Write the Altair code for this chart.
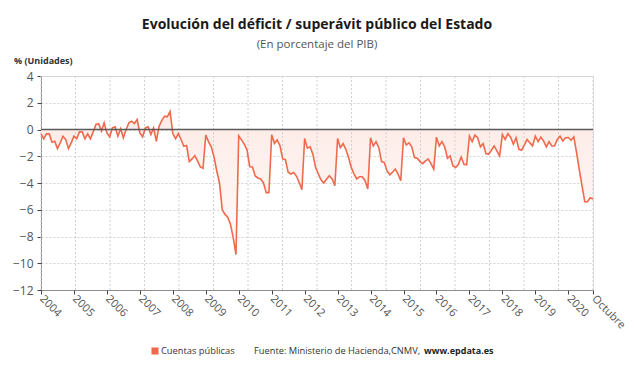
import altair as alt
import pandas as pd
import numpy as np

# Monthly cumulative State deficit/surplus (% GDP), Jan 2004 .. Oct 2020
v2004 = [-0.33, -0.7, -0.33, -0.33, -0.95, -0.88, -1.43, -1.0, -0.5, -0.75, -1.43, -1.0]
v2005 = [-0.5, -0.7, -0.18, -0.18, -0.7, -0.33, -0.7, -0.18, 0.38, 0.43, -0.12, 0.5]
v2006 = [-0.25, -0.55, 0.12, 0.2, -0.5, 0.05, -0.62, 0.0, 0.5, 0.62, 0.45, 0.75]
v2007 = [-0.25, -0.55, 0.12, 0.2, -0.38, 0.12, -0.88, 0.25, 0.68, 1.0, 0.95, 1.35]
v2008 = [-0.3, -0.7, -0.3, -0.75, -1.25, -1.2, -2.4, -2.2, -1.95, -2.35, -2.8, -2.9]
v2009 = [-0.42, -0.9, -1.3, -2.05, -3.1, -4.0, -6.0, -6.35, -6.55, -7.1, -8.1, -9.35]
v2010 = [-0.47, -0.78, -1.1, -1.52, -2.78, -2.8, -3.47, -3.62, -3.7, -3.98, -4.72, -4.72]
v2011 = [-0.4, -1.05, -0.78, -1.2, -2.2, -2.26, -3.2, -3.33, -3.22, -3.48, -3.95, -4.5]
v2012 = [-0.67, -1.4, -1.3, -1.85, -2.85, -3.33, -3.78, -4.0, -3.7, -3.45, -3.7, -4.2]
v2013 = [-0.67, -1.36, -1.06, -1.48, -2.1, -2.85, -3.33, -3.7, -3.53, -3.53, -3.83, -4.45]
v2014 = [-0.62, -1.23, -0.91, -1.36, -2.4, -2.47, -3.1, -3.38, -3.2, -2.96, -3.33, -3.83]
v2015 = [-0.62, -1.16, -1.0, -1.3, -2.1, -2.15, -2.4, -2.55, -2.35, -2.22, -2.55, -2.96]
v2016 = [-0.57, -1.23, -0.91, -1.3, -2.15, -1.98, -2.72, -2.84, -2.6, -2.05, -2.6, -2.64]
v2017 = [-0.5, -0.91, -0.42, -0.62, -1.3, -1.06, -1.8, -1.85, -1.55, -1.23, -1.6, -1.98]
v2018 = [-0.37, -0.74, -0.32, -0.57, -1.1, -0.62, -1.48, -1.55, -1.16, -0.74, -1.0, -1.23]
v2019 = [-0.5, -0.91, -0.57, -0.86, -1.3, -0.91, -1.23, -1.23, -0.74, -0.5, -0.86, -0.62]
v2020 = [-0.6, -0.8, -0.55, -1.7, -3.0, -4.2, -5.4, -5.4, -5.1, -5.2]

values = (v2004 + v2005 + v2006 + v2007 + v2008 + v2009 + v2010 + v2011 + v2012 +
          v2013 + v2014 + v2015 + v2016 + v2017 + v2018 + v2019 + v2020)

tick_labels = [str(y) for y in range(2004, 2021)] + ["Octubre"]
tick_positions = [12 * k for k in range(17)] + [len(values) - 1]
y_ticks = [4, 2, 0, -2, -4, -6, -8, -10, -12]

title_text = "Evolución del déficit / superávit público del Estado"
subtitle_text = "(En porcentaje del PIB)"
unit_text = "% (Unidades)"
series_name = "Cuentas públicas"
source_text = "Fuente: Ministerio de Hacienda,CNMV,"
source_link = "www.epdata.es"

FONT = "Open Sans"
LINE = "#ef6a4c"
n_last = len(values) - 1

df = pd.DataFrame({"m": list(range(len(values))), "v": values})

xscale = alt.Scale(domain=[0, n_last], nice=False, zero=False)
yscale = alt.Scale(domain=[-12, 4], nice=False)

label_expr = ("[" + ",".join("'%s'" % s for s in tick_labels) + "][indexof(["
              + ",".join(str(p) for p in tick_positions) + "], datum.value)]")

x_axis = alt.Axis(values=tick_positions, labelExpr=label_expr, grid=False,
                  labelAngle=45, labelAlign="left", labelBaseline="middle",
                  labelFont=FONT, labelFontSize=11, labelColor="#555",
                  labelPadding=3, tickSize=4, tickColor="#444",
                  domainColor="#444", domainDash=[1, 1], labelOverlap=False,
                  labelFlush=False, title=None)
y_axis = alt.Axis(values=y_ticks, grid=True, gridColor="#d0d0d0", gridDash=[2, 2],
                  labelFont=FONT, labelFontSize=12, labelColor="#555",
                  tickSize=4, tickColor="#444", domainColor="#444",
                  domainDash=[1, 1], labelPadding=4, title=None)

base = alt.Chart(df)

area = base.mark_area(
    color=alt.Gradient(
        gradient="linear",
        stops=[alt.GradientStop(color="#fdebe6", offset=0),
               alt.GradientStop(color="#fffafa", offset=1)],
        x1=0, x2=0, y1=0, y2=1,
    ),
).encode(
    x=alt.X("m:Q", scale=xscale, axis=x_axis),
    y=alt.Y("v:Q", scale=yscale, axis=y_axis),
    y2=alt.datum(0),
)

# vertical grid: 16 equal divisions of the plot width
grid_df = pd.DataFrame({"g": list(np.linspace(0, n_last, 17))})
vgrid = alt.Chart(grid_df).mark_rule(color="#d0d0d0", strokeDash=[2, 2], strokeWidth=1).encode(
    x=alt.X("g:Q", scale=xscale, axis=x_axis)
)

zero = alt.Chart(pd.DataFrame({"z": [0]})).mark_rule(color="#5a5a5a", strokeWidth=1.6).encode(
    y=alt.Y("z:Q", scale=yscale, axis=y_axis)
)

line = base.mark_line(color=LINE, strokeWidth=1.6).encode(
    x=alt.X("m:Q", scale=xscale, axis=x_axis),
    y=alt.Y("v:Q", scale=yscale, axis=y_axis),
)

def txt(text, x, y, size, weight="normal", color="#222", align="left"):
    return alt.Chart(pd.DataFrame({"t": [text]})).mark_text(
        font=FONT, fontSize=size, fontWeight=weight, color=color, align=align,
        baseline="middle",
    ).encode(text="t:N", x=alt.value(x), y=alt.value(y))

title = txt(title_text, 276, -51, 14, "bold", "#1a1a1a", "center")
subtitle = txt(subtitle_text, 276, -31, 11.5, "normal", "#555", "center")
unit = txt(unit_text, -27, -15, 9, "bold", "#333")
leg_sq = alt.Chart(pd.DataFrame({"t": [series_name]})).mark_square(
    color=LINE, size=50, opacity=1).encode(x=alt.value(114), y=alt.value(275))
leg_txt = txt(series_name, 120, 275, 9.3, "normal", "#333")
src = txt(source_text, 213, 275, 9.3, "normal", "#333")
src2 = txt(source_link, 383, 275, 9, "bold", "#222")

chart = alt.layer(
    area, vgrid, line, zero, title, subtitle, unit, leg_sq, leg_txt, src, src2
).properties(
    width=552, height=214,
    autosize=alt.AutoSizeParams(type="none"),
    padding={"left": 41, "top": 76, "right": 45, "bottom": 85},
).configure_view(stroke=None).configure(background="white")

chart.save("out.html", embed_options={"renderer": "svg", "actions": False})
